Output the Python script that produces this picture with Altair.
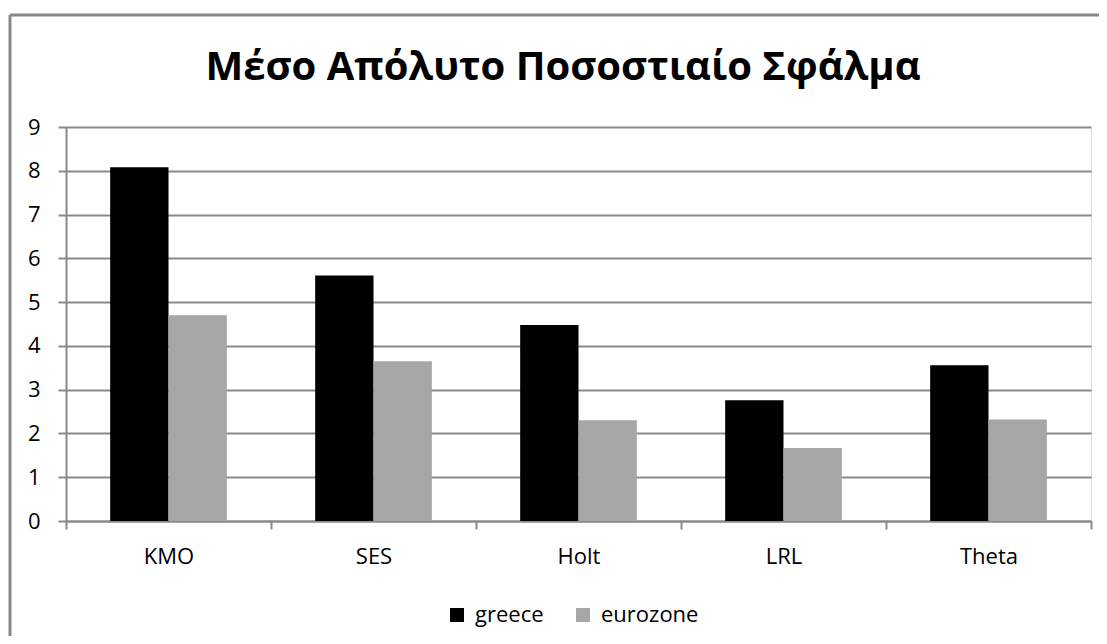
import altair as alt
import pandas as pd

categories = ["KMO", "SES", "Holt", "LRL", "Theta"]
greece = [8.08, 5.61, 4.48, 2.76, 3.56]
eurozone = [4.70, 3.65, 2.30, 1.67, 2.32]
series_names = ["greece", "eurozone"]
series_colors = ["#000000", "#a6a6a6"]
title_text = "Μέσο Απόλυτο Ποσοστιαίο Σφάλμα"

rows = []
for c, g, e in zip(categories, greece, eurozone):
    rows.append({"method": c, "series": "greece", "value": g})
    rows.append({"method": c, "series": "eurozone", "value": e})
df = pd.DataFrame(rows)

FONT = "Open Sans"
GREY = "#898989"

bars = alt.Chart(df).mark_bar().encode(
    x=alt.X("method:N", sort=categories,
            scale=alt.Scale(paddingInner=0, paddingOuter=0),
            axis=alt.Axis(title=None, labelAngle=0, tickBand="extent",
                          labelFontSize=22, labelFont=FONT, labelColor="#000000",
                          labelPadding=17, tickSize=8, tickColor=GREY, tickWidth=2,
                          domainColor=GREY, domainWidth=2, grid=False)),
    xOffset=alt.XOffset("series:N", sort=series_names,
                        scale=alt.Scale(paddingInner=0, paddingOuter=0.757)),
    y=alt.Y("value:Q", scale=alt.Scale(domain=[0, 9], nice=False),
            axis=alt.Axis(title=None, values=list(range(10)), tickCount=10,
                          labelFontSize=22, labelFont=FONT, labelColor="#000000",
                          labelPadding=18, tickSize=8, tickColor=GREY, tickWidth=2,
                          domainColor=GREY, domainWidth=2,
                          grid=True, gridColor=GREY, gridWidth=2)),
    color=alt.Color("series:N",
                    scale=alt.Scale(domain=series_names, range=series_colors),
                    legend=alt.Legend(title=None, orient="none", legendX=380, legendY=477,
                                      direction="horizontal", symbolType="square",
                                      symbolSize=196, symbolStrokeWidth=0,
                                      labelFontSize=22, labelFont=FONT, labelColor="#000000",
                                      labelOffset=7, columnPadding=28, padding=0)),
)

one = pd.DataFrame({"a": [0]})
border_left = alt.Chart(one).mark_rule(color=GREY, strokeWidth=3).encode(
    x=alt.value(-56), y=alt.value(-112), y2=alt.value(509))
border_top = alt.Chart(one).mark_rule(color=GREY, strokeWidth=3).encode(
    x=alt.value(-56), x2=alt.value(1033), y=alt.value(-112))
title_df = pd.DataFrame({"t": [title_text]})
title_mark = alt.Chart(title_df).mark_text(
    font=FONT, fontSize=40, fontWeight="bold", color="#000000",
    align="center", baseline="alphabetic").encode(
    text="t:N", x=alt.value(497), y=alt.value(-47))

chart = alt.layer(bars, border_left, border_top, title_mark).properties(
    width=1025, height=394,
    autosize=alt.AutoSizeParams(type="none"),
    padding={"left": 58, "top": 119, "right": 8, "bottom": 115},
).configure_view(stroke=None).configure(background="white")

chart.save("out.html", embed_options={"renderer": "svg", "actions": False})
